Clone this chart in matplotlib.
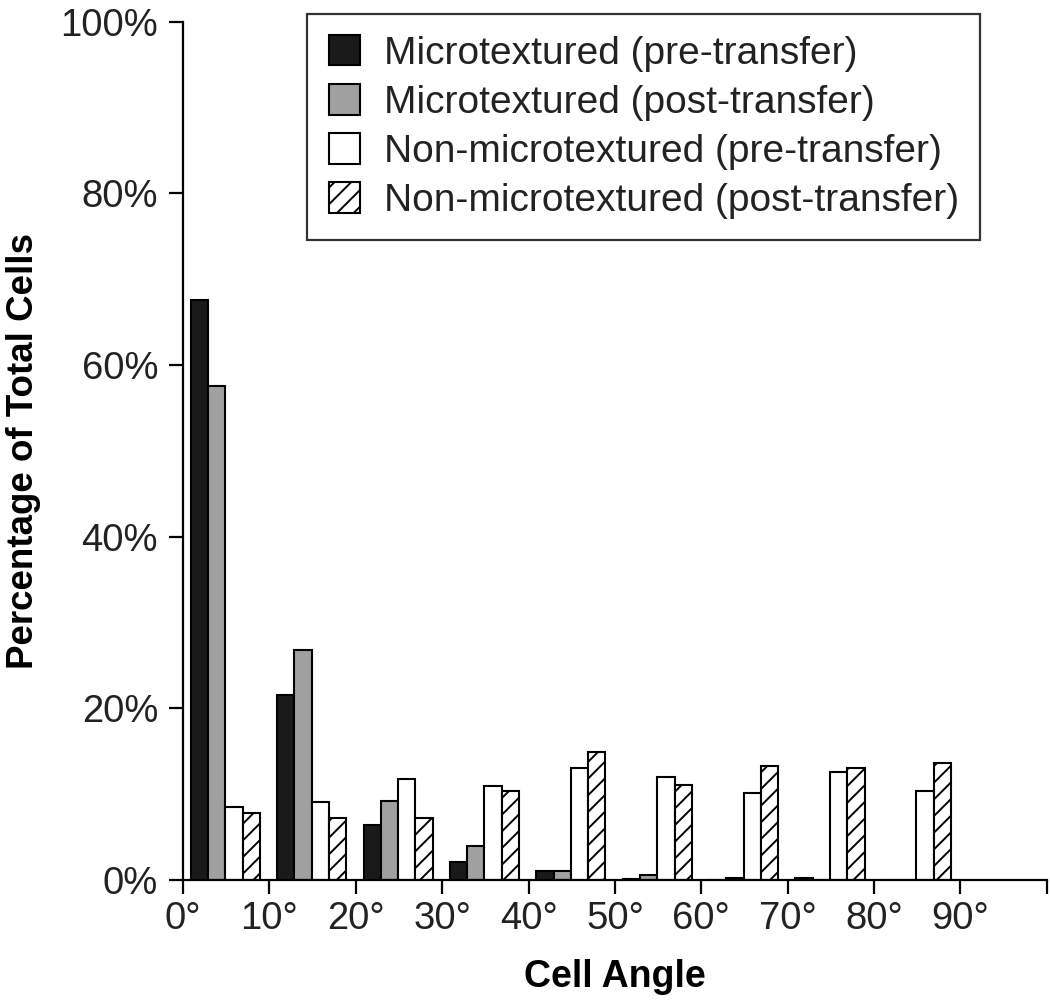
import matplotlib
matplotlib.use("Agg")
import matplotlib.pyplot as plt
import numpy as np

plt.rcParams['font.family'] = ['Liberation Sans', 'DejaVu Sans']
plt.rcParams['hatch.linewidth'] = 1.4

bin_starts = [0, 10, 20, 30, 40, 50, 60, 70, 80]
series_names = ["Microtextured (pre-transfer)", "Microtextured (post-transfer)",
                "Non-microtextured (pre-transfer)", "Non-microtextured (post-transfer)"]
micro_pre = [67.6, 21.6, 6.4, 2.1, 1.1, 0.1, 0.0, 0.2, 0.0]
micro_post = [57.6, 26.8, 9.2, 4.0, 1.1, 0.6, 0.2, 0.0, 0.0]
nonmicro_pre = [8.5, 9.1, 11.8, 10.9, 13.0, 12.0, 10.1, 12.6, 10.4]
nonmicro_post = [7.8, 7.2, 7.2, 10.4, 14.9, 11.1, 13.3, 13.0, 13.6]
x_tick_values = [0, 10, 20, 30, 40, 50, 60, 70, 80, 90, 100]
x_tick_labels = ["0°", "10°", "20°", "30°", "40°", "50°", "60°", "70°", "80°", "90°", ""]
y_tick_values = [0, 20, 40, 60, 80, 100]
y_tick_labels = ["0%", "20%", "40%", "60%", "80%", "100%"]

fig = plt.figure(figsize=(10.5, 10.02), dpi=100)
ax = fig.add_axes([0.1743, 0.1218, 0.8227, 0.8567])

styles = [
    dict(color="#1a1a1a", hatch=None),
    dict(color="#a0a0a0", hatch=None),
    dict(color="white", hatch=None),
    dict(color="white", hatch="//"),
]
series = [micro_pre, micro_post, nonmicro_pre, nonmicro_post]
bw = 2.0
start = np.array(bin_starts, dtype=float) + 0.9
for i, (vals, st, name) in enumerate(zip(series, styles, series_names)):
    ax.bar(start + i * bw, vals, width=bw, align="edge", color=st["color"],
           edgecolor="black", linewidth=1.5, hatch=st["hatch"], label=name, zorder=2)

ax.set_xlim(0, 100)
ax.set_ylim(0, 100)
ax.set_xticks(x_tick_values)
ax.set_xticklabels(x_tick_labels)
ax.set_yticks(y_tick_values)
ax.set_yticklabels(y_tick_labels)
for s in ["top", "right"]:
    ax.spines[s].set_visible(False)
for s in ["left", "bottom"]:
    ax.spines[s].set_linewidth(1.6)
ax.tick_params(axis="both", direction="out", length=10, width=1.6, labelsize=27.5,
               colors="black")
ax.tick_params(axis="x", pad=5)
ax.tick_params(axis="y", pad=8)
for lab in ax.get_xticklabels() + ax.get_yticklabels():
    lab.set_color("#222222")

ax.set_xlabel("Cell Angle", fontsize=27, fontweight="bold", labelpad=16)
ax.set_ylabel("Percentage of Total Cells", fontsize=26.5, fontweight="bold", labelpad=14)

leg = ax.legend(loc="upper right", bbox_to_anchor=(0.923, 1.009), borderaxespad=0,
                fontsize=28, frameon=True, fancybox=False, handlelength=0.82,
                handleheight=0.82, handletextpad=0.6, labelspacing=0.32,
                borderpad=0.55)
leg.get_frame().set_edgecolor("black")
leg.get_frame().set_linewidth(1.6)
for t in leg.get_texts():
    t.set_color("#222222")

fig.savefig("out.png", dpi=100)
